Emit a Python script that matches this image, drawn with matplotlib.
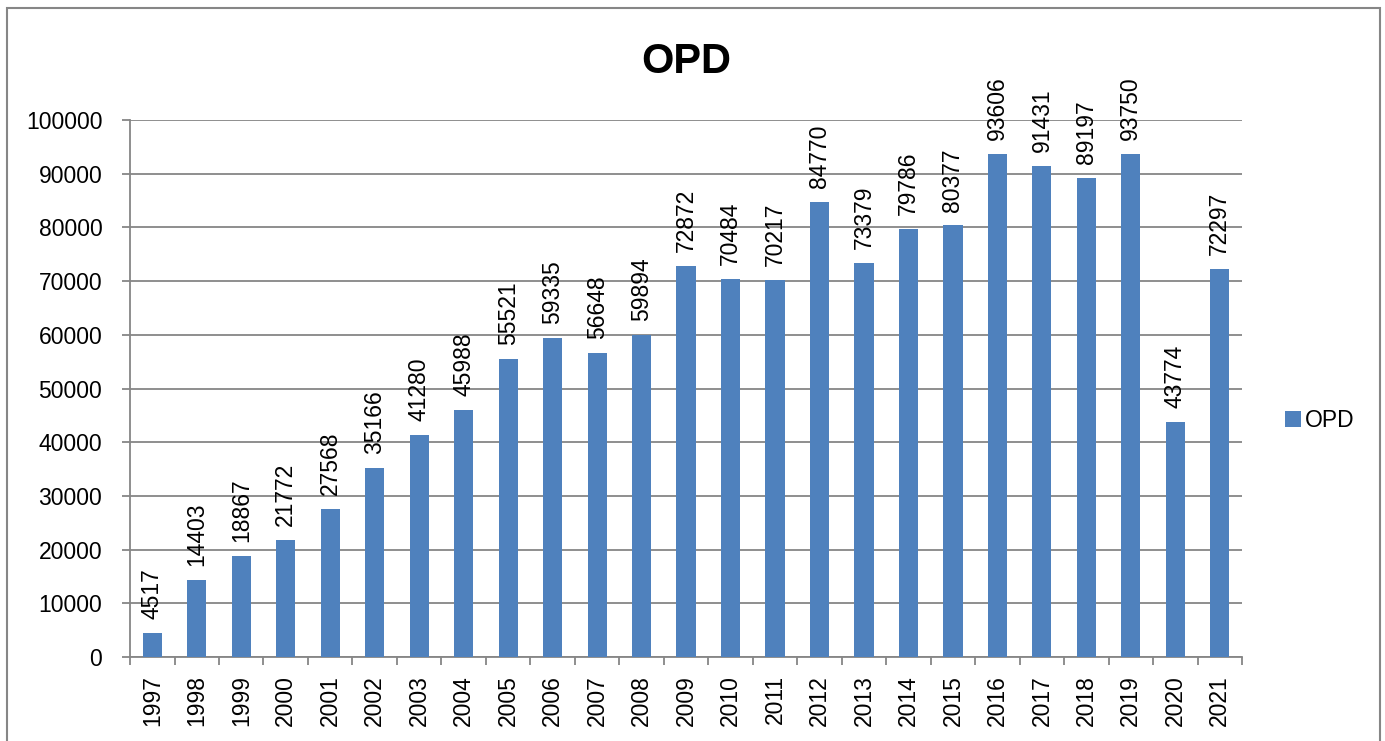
import matplotlib.pyplot as plt
from matplotlib.patches import Rectangle

# data
years = ["1997", "1998", "1999", "2000", "2001", "2002", "2003", "2004", "2005",
         "2006", "2007", "2008", "2009", "2010", "2011", "2012", "2013", "2014",
         "2015", "2016", "2017", "2018", "2019", "2020", "2021"]
opd = [4517, 14403, 18867, 21772, 27568, 35166, 41280, 45988, 55521,
       59335, 56648, 59894, 72872, 70484, 70217, 84770, 73379, 79786,
       80377, 93606, 91431, 89197, 93750, 43774, 72297]

plt.rcParams['font.family'] = ['Liberation Sans', 'DejaVu Sans']
bar_col = "#4F81BD"
grey = "#868686"

fig = plt.figure(figsize=(13.85, 7.41), dpi=100)
ax = fig.add_axes([0.0939, 0.1134, 0.8029, 0.7246])

x = list(range(len(years)))
ax.bar(x, opd, width=0.43, color=bar_col, label="OPD", zorder=3)

for xi, v in zip(x, opd):
    ax.annotate(str(v), (xi, v), xytext=(0, 10), textcoords="offset points",
                rotation=90, ha="center", va="bottom", fontsize=16.5)

ax.set_xlim(-0.5, len(years) - 0.5)
ax.set_ylim(0, 100000)
ax.set_yticks(range(0, 100001, 10000))
ax.set_xticks(x)
ax.set_xticklabels(years, rotation=90)
ax.set_xticks([i - 0.5 for i in range(len(years) + 1)], minor=True)
ax.tick_params(axis="x", which="major", length=0, pad=13, labelsize=16.5)
ax.tick_params(axis="x", which="minor", length=6, width=1.3, color=grey, direction="out")
ax.tick_params(axis="y", length=6, width=1.3, color=grey, labelsize=16.5, pad=14)

ax.grid(axis="y", color=grey, linewidth=1.3, zorder=0)
for s in ["top", "right"]:
    ax.spines[s].set_visible(False)
for s in ["left", "bottom"]:
    ax.spines[s].set_color(grey)
    ax.spines[s].set_linewidth(1.3)

ax.set_title("OPD", fontsize=30, fontweight="bold", pad=34)

ax.legend(loc="center left", bbox_to_anchor=(1.02, 0.44), frameon=False,
          fontsize=16.5, handlelength=0.7, handleheight=0.7, handletextpad=0.15)

# outer chart border
fig.patches.append(Rectangle((7 / 1385, -0.05), 1373 / 1385, 1.05 - 8 / 741,
                             transform=fig.transFigure, fill=False,
                             edgecolor=grey, linewidth=1.5))

fig.savefig("out.png", dpi=100)
